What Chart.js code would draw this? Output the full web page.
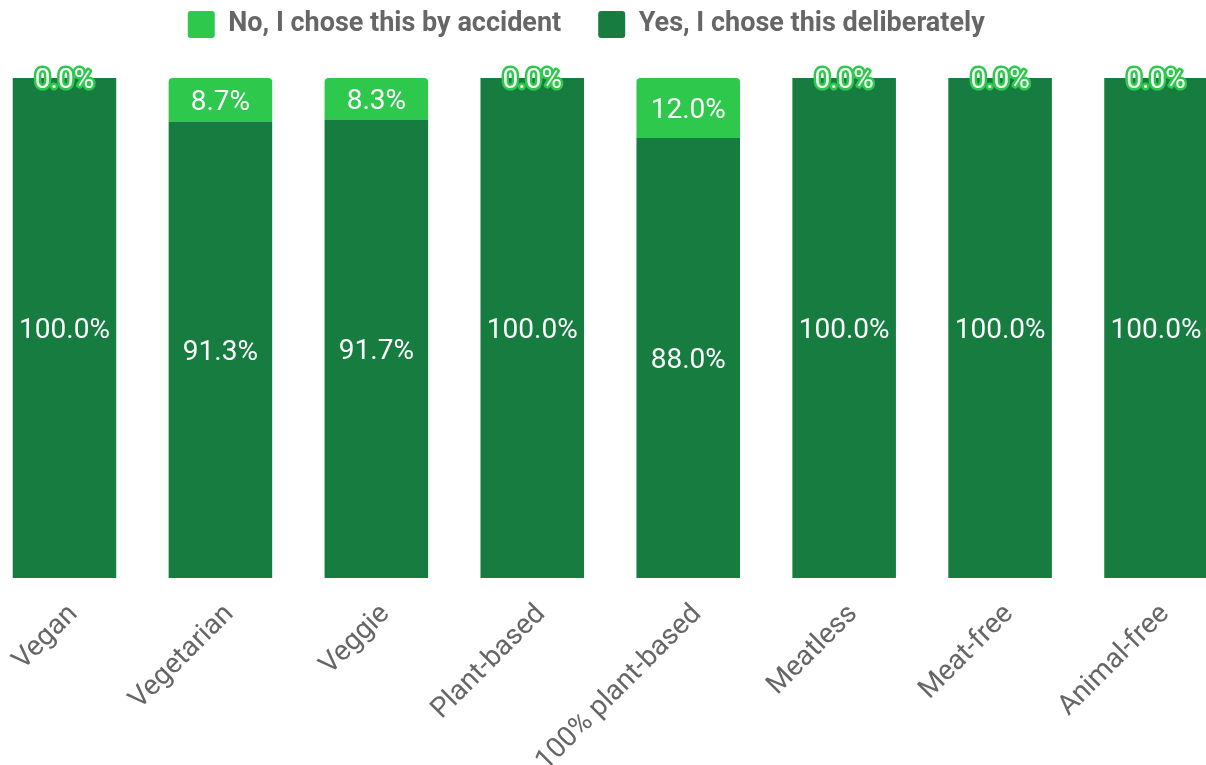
<!DOCTYPE html>
<html>
<head>
<meta charset="utf-8">
<script src="https://cdn.jsdelivr.net/npm/chart.js@4/dist/chart.umd.min.js"></script>
<style>
  html, body { margin: 0; padding: 0; background: #ffffff; overflow: hidden; }
  body { width: 1206px; height: 765px; position: relative; }
  #wrap { position: absolute; left: -54px; top: -26px; width: 1288px; height: 791px; }
</style>
</head>
<body>
<div id="wrap"><canvas id="chart"></canvas></div>
<script>
// Survey: was the label choice deliberate or accidental?
const categories = ['Vegan', 'Vegetarian', 'Veggie', 'Plant-based', '100% plant-based', 'Meatless', 'Meat-free', 'Animal-free'];
const deliberate = [100.0, 91.3, 91.7, 100.0, 88.0, 100.0, 100.0, 100.0];
const accidental = [0.0, 8.7, 8.3, 0.0, 12.0, 0.0, 0.0, 0.0];
const seriesNames = ['No, I chose this by accident', 'Yes, I chose this deliberately'];

const LIGHT = '#2ec84d';
const DARK = '#167c40';
const LEGEND_HEIGHT = 104;
const LEGEND_SHIFT = -24;

// Fixes the legend block height so the plot starts just under it,
// and nudges the legend row a little left of the plot centre.
const legendPlacement = {
  id: 'legendPlacement',
  beforeInit(chart) {
    const origFit = chart.legend.fit;
    chart.legend.fit = function () {
      origFit.call(this);
      this.height = LEGEND_HEIGHT;
    };
  },
  afterLayout(chart) {
    chart.legend.left += LEGEND_SHIFT;
    chart.legend.right += LEGEND_SHIFT;
  }
};

// Writes each segment's value in its middle; empty segments get an outlined label.
const valueLabels = {
  id: 'valueLabels',
  afterDatasetsDraw(chart) {
    const ctx = chart.ctx;
    const size = 28;
    ctx.save();
    ctx.font = '400 ' + size + 'px Roboto';
    ctx.textAlign = 'center';
    ctx.textBaseline = 'alphabetic';
    ctx.lineJoin = 'round';
    chart.data.datasets.forEach((ds, di) => {
      const meta = chart.getDatasetMeta(di);
      meta.data.forEach((bar, i) => {
        const v = ds.data[i];
        const text = v.toFixed(1) + '%';
        const p = bar.getProps(['x', 'y', 'base'], true);
        const cy = (p.y + p.base) / 2 + size * 0.711 / 2;
        if (v === 0) {
          ctx.lineWidth = 5;
          ctx.strokeStyle = LIGHT;
          ctx.strokeText(text, p.x, cy);
        }
        ctx.fillStyle = '#ffffff';
        ctx.fillText(text, p.x, cy);
      });
    });
    ctx.restore();
  }
};

new Chart(document.getElementById('chart'), {
  type: 'bar',
  data: {
    labels: categories,
    datasets: [
      {
        label: seriesNames[1],
        data: deliberate,
        backgroundColor: DARK,
        borderRadius: 0,
        stack: 's'
      },
      {
        label: seriesNames[0],
        data: accidental,
        backgroundColor: LIGHT,
        borderRadius: { topLeft: 4, topRight: 4, bottomLeft: 0, bottomRight: 0 },
        borderSkipped: false,
        stack: 's'
      }
    ]
  },
  options: {
    responsive: true,
    maintainAspectRatio: false,
    animation: false,
    layout: { padding: { left: 40.5, right: 0, top: 0, bottom: 0 } },
    datasets: { bar: { categoryPercentage: 0.8, barPercentage: 0.83 } },
    scales: {
      x: {
        stacked: true,
        grid: { display: false },
        border: { display: false },
        ticks: {
          color: '#666666',
          font: { family: 'Roboto', size: 28 },
          maxRotation: 45,
          minRotation: 45,
          padding: 12,
          labelOffset: 9
        },
        afterFit(scale) { scale.height = 187; }
      },
      y: {
        stacked: true,
        display: false,
        min: 0,
        max: 100
      }
    },
    plugins: {
      legend: {
        position: 'top',
        reverse: true,
        labels: {
          color: '#666666',
          font: { family: 'Roboto', size: 27, weight: 'bold' },
          boxWidth: 27,
          boxHeight: 27,
          padding: 37,
          useBorderRadius: true,
          borderRadius: 3
        }
      },
      tooltip: { enabled: false }
    }
  },
  plugins: [legendPlacement, valueLabels]
});
</script>
</body>
</html>
